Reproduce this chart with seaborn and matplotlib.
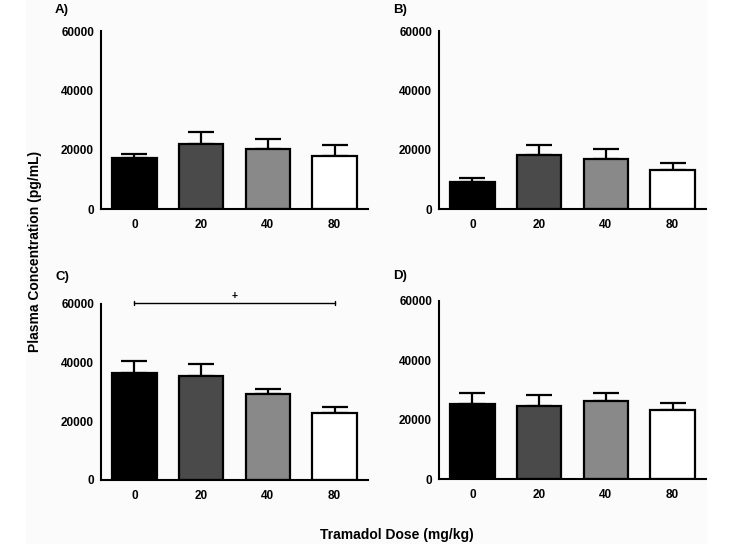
import matplotlib
matplotlib.use("Agg")
import matplotlib.pyplot as plt
import seaborn as sns
import pandas as pd
from matplotlib.patches import Rectangle

# doses and colours for the four groups
doses = ["0", "20", "40", "80"]
bar_colors = ["#000000", "#4a4a4a", "#898989", "#ffffff"]

# mean plasma concentration (pg/mL) and SEM per panel
mean_a = [17200, 22000, 20100, 18000]
sem_a = [1200, 3800, 3600, 3500]
mean_b = [9000, 18100, 16900, 13300]
sem_b = [1600, 3400, 3200, 2300]
mean_c = [36400, 35300, 29200, 23000]
sem_c = [4300, 4100, 1700, 1900]
mean_d = [25300, 24700, 26200, 23100]
sem_d = [3700, 3700, 2700, 2400]

panel_labels = ["A)", "B)", "C)", "D)"]

sns.set_style("white")
plt.rcParams["font.family"] = ["Liberation Sans", "DejaVu Sans"]
plt.rcParams["font.weight"] = "bold"
plt.rcParams["text.color"] = "black"
plt.rcParams["xtick.color"] = "black"
plt.rcParams["ytick.color"] = "black"

fig = plt.figure(figsize=(7.34, 5.44), dpi=100)
fig.patch.set_facecolor("white")
fig.patches.append(Rectangle((26 / 734, 0), (707 - 26) / 734, 1, transform=fig.transFigure,
                             facecolor="#fbfbfb", edgecolor="none", zorder=-10))

w = 267 / 734
positions = [
    [101 / 734, 1 - 209 / 544, w, 178 / 544],
    [439 / 734, 1 - 209 / 544, w, 178 / 544],
    [101 / 734, 1 - 480 / 544, w, 176 / 544],
    [439 / 734, 1 - 479 / 544, w, 178 / 544],
]
# panel letter placement (pixels from top-left)
label_xy = [(55, 10), (393, 10), (55, 277), (393, 276)]
means = [mean_a, mean_b, mean_c, mean_d]
sems = [sem_a, sem_b, sem_c, sem_d]

for i in range(4):
    ax = fig.add_axes(positions[i])
    ax.set_facecolor("none")
    df = pd.DataFrame({"Dose": doses, "Conc": means[i]})
    ax.errorbar(range(4), means[i], yerr=[[0] * 4, sems[i]], fmt="none", ecolor="black",
                elinewidth=1.6, capsize=9.5, capthick=1.6, zorder=1)
    sns.barplot(data=df, x="Dose", y="Conc", hue="Dose", palette=bar_colors, legend=False,
                edgecolor="black", linewidth=1.6, width=0.67, ax=ax, zorder=2)
    ax.set_xlim(-0.5, 3.5)
    ax.set_ylim(0, 60000)
    ax.set_yticks([0, 20000, 40000, 60000])
    ax.set_xlabel("")
    ax.set_ylabel("")
    for s in ["top", "right"]:
        ax.spines[s].set_visible(False)
    for s in ["left", "bottom"]:
        ax.spines[s].set_linewidth(1.5)
        ax.spines[s].set_color("black")
    ax.tick_params(axis="both", direction="out", length=3, width=1.5, color="black",
                   labelsize=8.5, pad=2)
    ax.tick_params(axis="x", pad=4)
    for lab in ax.get_xticklabels() + ax.get_yticklabels():
        lab.set_fontweight("bold")
    lx, ly = label_xy[i]
    fig.text(lx / 734, 1 - ly / 544, panel_labels[i], fontsize=9.5, fontweight="bold",
             va="center")

    if i == 2:
        ax.plot([0, 3], [60400, 60400], color="black", lw=1, clip_on=False)
        ax.plot([0, 0], [59700, 61100], color="black", lw=1, clip_on=False)
        ax.plot([3, 3], [59700, 61100], color="black", lw=1, clip_on=False)
        ax.text(1.5, 61000, "+", ha="center", va="bottom", fontsize=7.5, fontweight="bold")

fig.text(35 / 734, 1 - 251 / 544, "Plasma Concentration (pg/mL)", rotation=90, ha="center",
         va="center", fontsize=10, fontweight="bold")
fig.text(397 / 734, 1 - 535 / 544, "Tramadol Dose (mg/kg)", ha="center", va="center",
         fontsize=10, fontweight="bold")

fig.savefig("out.png", dpi=100)
